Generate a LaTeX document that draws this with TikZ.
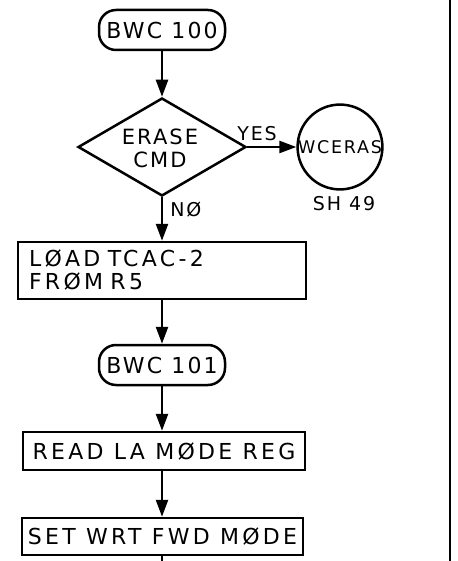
\documentclass[tikz,border=0pt]{standalone}
\usepackage{fontspec}
\setmainfont{DejaVu Sans}
\newfontfamily\handfont[LetterSpace=10]{DejaVu Sans}
\newfontfamily\boxfont[LetterSpace=15]{DejaVu Sans}
\usetikzlibrary{shapes.geometric, positioning, arrows.meta}
\tikzset{
	->,
	>={Triangle[length=17pt,width=12pt]},
}

\begin{document}
\begin{tikzpicture}[
    x=1pt,
    y=-1pt,
    line width=2.5pt,
    term/.style={draw, rounded corners=17pt, minimum width=126pt, minimum height=40pt, inner sep=0pt, font=\handfont\fontsize{22}{24}\selectfont},
    box/.style={draw, inner xsep=4pt, inner ysep=0pt, font=\boxfont\fontsize{22}{23}\selectfont},
    dec/.style={draw, diamond, minimum width=168pt, minimum height=98pt, inner sep=0pt},
    conn/.style={draw, circle, minimum size=84pt, inner sep=0pt, font=\handfont\fontsize{17.5}{20}\selectfont},
    txt/.style={font=\handfont\fontsize{21}{23}\selectfont, align=center},
    lbl/.style={font=\handfont\fontsize{19}{20}\selectfont, inner sep=1pt}
]
\useasboundingbox (0,0) rectangle (457,561);

% --- Nodes ---
\node[term] (bwc100) at (162,30) {BWC 100};
\node[dec] (erase) at (162,147) {};
\node[txt] (erasetxt) at (160,148) {ERASE\\CMD};
\node[conn] (wceras) at (340,147) {WCERAS};
\node[lbl] (sheet) at (344,204) {SH 49};
\node[box, inner xsep=11pt, text width=266pt, align=left, minimum height=57pt] (load) at (162,270.5) {LØAD TCAC-2\\FRØM R5};
\node[term] (bwc101) at (162,365) {BWC 101};
\node[box, minimum width=282pt, minimum height=38pt] (read) at (164,451) {READ LA MØDE REG};
\node[box, minimum width=281pt, minimum height=37pt] (set) at (162.5,536.5) {SET WRT FWD MØDE};
\coordinate (exit) at (162,561);

% --- Flow ---
\draw (bwc100) -- (erase);
\draw (erase.east) -- node[lbl, above=4pt, pos=0.2] (yes) {YES} (wceras.west);
\draw (erase.south) -- node[lbl, right=6pt, pos=0.28] (no) {NØ} (load.north);
\draw (load) -- (bwc101);
\draw (bwc101) -- (bwc101 |- read.north);
\draw (read.south -| bwc101) -- (set.north -| bwc101);
\draw[-] (set.south -| bwc101) -- (exit);

% --- Sheet border ---
\draw[-] (450,0) -- (450,561);
\end{tikzpicture}
\end{document}
